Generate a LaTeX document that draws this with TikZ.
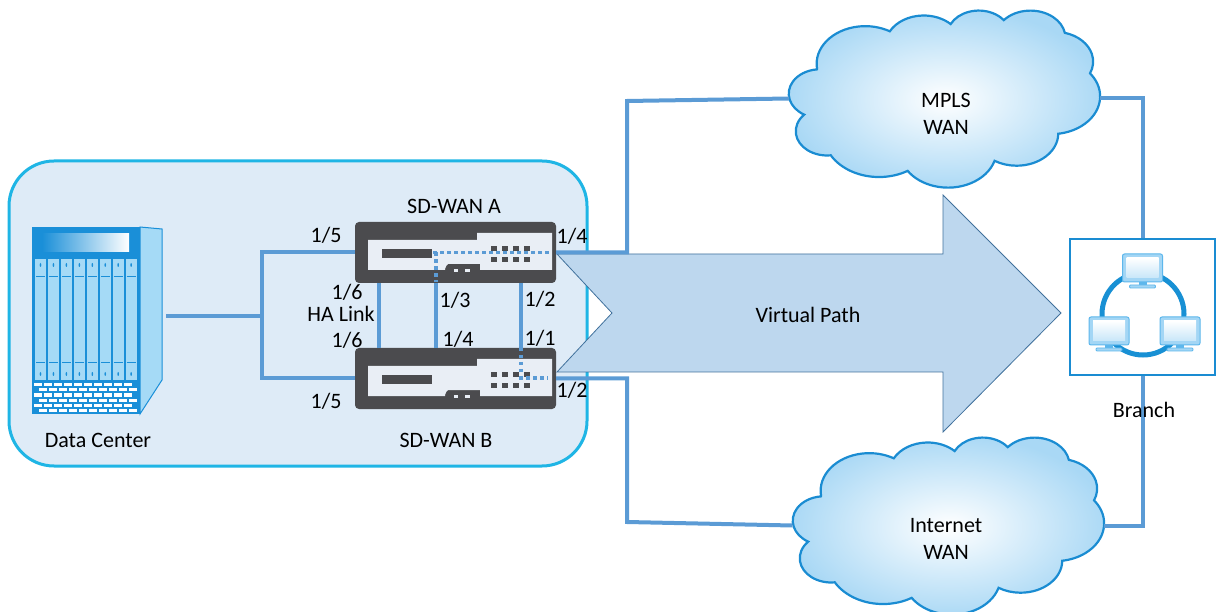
\documentclass[tikz,border=0pt]{standalone}
\usepackage{fontspec}
\setmainfont{Carlito}

\definecolor{boxfill}{HTML}{DEEBF7}
\definecolor{boxline}{HTML}{1FB5E5}
\definecolor{wire}{HTML}{5B9BD5}
\definecolor{devgray}{HTML}{4B4B4E}
\definecolor{panel}{HTML}{E9EEF5}
\definecolor{arrowfill}{HTML}{BDD7EE}
\definecolor{arrowline}{HTML}{41719C}
\definecolor{cloudline}{HTML}{1A8CD2}
\definecolor{cloudfill}{HTML}{A9D8F5}
\definecolor{rackblue}{HTML}{1A8FD8}
\definecolor{racklight}{HTML}{A5DAF6}
\definecolor{ringblue}{HTML}{1890D4}
\definecolor{monedge}{HTML}{5DB7EC}
\definecolor{monfill}{HTML}{A3D6F5}

% elliptical arc given by radii, start angle and sweep (visual angles)
\newcommand\cloudarc[4]{arc[start angle={atan2((#1)*sin(#3),(#2)*cos(#3))},
  delta angle={mod(atan2((#1)*sin(#3+#4),(#2)*cos(#3+#4))-atan2((#1)*sin(#3),(#2)*cos(#3))+720,360)},
  x radius=#1, y radius=#2]}
% cloud outline in a 432 x 432 box
\newcommand\cloudoutline{(39,143.7)
  \cloudarc{67.53}{91.90}{-190.4875}{123.7805}
  \cloudarc{53.33}{72.67}{-144.1024}{89.9452}
  \cloudarc{43.65}{59.45}{-145.8079}{99.7230}
  \cloudarc{48.57}{65.95}{-130.9861}{117.2417}
  \cloudarc{53.33}{72.73}{-78.7089}{109.0269}
  \cloudarc{67.75}{92.20}{-46.2673}{130.2690}
  \cloudarc{57.85}{78.67}{0.6250}{114.0333}
  \cloudarc{67.52}{92.15}{22.4516}{115.1726}
  \cloudarc{77.20}{105.43}{66.2426}{75.7110}
  \cloudarc{43.60}{59.18}{-274.9421}{146.7356}
  \cloudarc{43.45}{59.45}{-246.8285}{152.5189}
  -- cycle}

\tikzset{
  lbl/.style={font=\fontsize{22}{26}\selectfont, inner sep=0pt, text=black},
  wireline/.style={draw=wire, line width=4pt},
  dotwire/.style={draw=wire, line width=3.5pt, dash pattern=on 3.5pt off 3.5pt},
  cloudbody/.style={draw=cloudline, line width=2.2pt, shading=radial,
    inner color=white, outer color=cloudfill},
  appliance/.pic={
    % outer body
    \node[minimum width=201pt, minimum height=61pt, inner sep=0pt,
          fill=devgray, rounded corners=4pt] (-box) at (100.5,30.5) {};
    % light face plate with raised right part and a bottom tab
    \fill[panel] (13,18) -- (122,18) -- (122,11) -- (197,11) -- (197,48)
      -- (125,48) -- (125,42) -- (93,42) [rounded corners=2pt]-- (90,45)
      [sharp corners]-- (90,48) -- (13,48) -- cycle;
    % display slot
    \fill[devgray] (27,27) rectangle (77,36);
    % tab indicators
    \fill[panel] (99,47) rectangle (103,50);
    \fill[panel] (110,47) rectangle (115,50);
    % port grid
    \foreach \px in {136,147,158,169} {
      \fill[devgray] (\px,24) rectangle ++(6,5);
      \fill[devgray] (\px,35) rectangle ++(6,5);
    }
  },
  monitor/.pic={
    \filldraw[fill=monfill, draw=monedge, line width=1pt, rounded corners=2pt]
      (-20,-14) rectangle (20,14);
    \shade[top color=white, bottom color=monfill!60]
      (-16,-10) rectangle (16,10);
    \fill[monedge] (-4,14) rectangle (4,17);
    \filldraw[fill=monfill, draw=monedge, line width=0.8pt, rounded corners=1pt]
      (-13,17) rectangle (13,20);
  }
}

\begin{document}
\begin{tikzpicture}[x=1pt, y=-1pt]
\path[use as bounding box] (0,0) rectangle (1216,612);

% data center enclosure
\draw[fill=boxfill, draw=boxline, line width=3pt, rounded corners=45pt]
  (9,161) rectangle (587,466);

% server rack
\node[minimum width=130pt, minimum height=187pt, inner sep=0pt] (rack) at (97,320.5) {};
\filldraw[fill=racklight, draw=rackblue, line width=1pt]
  (140,227) -- (162,229) -- (162,380) -- (140,414) -- cycle;
\fill[rackblue] (32,227) rectangle (140,414);
\shade[left color=rackblue, right color=white] (42,234) rectangle (129,252);
\foreach \i in {0,...,7} {
  \pgfmathsetmacro{\bx}{35+\i*12.95}
  \fill[racklight] (\bx,259) rectangle ++(11,121);
  \fill[rackblue] (\bx+5.5,265) ellipse (0.8pt and 2pt);
  \fill[rackblue] (\bx+5.5,374) ellipse (0.8pt and 2pt);
  \draw[rackblue, line width=0.8pt] (\bx+1,276) -- ++(9,0);
  \draw[rackblue, line width=0.8pt] (\bx+1,362) -- ++(9,0);
}
\foreach \r in {0,...,5} {
  \pgfmathsetmacro{\by}{383+\r*5.2}
  \pgfmathsetmacro{\off}{mod(\r,2)*5}
  \foreach \c in {0,...,10} {
    \pgfmathsetmacro{\bxx}{34+\off+\c*10}
    \ifdim\bxx pt<132pt
      \fill[white] (\bxx,\by) rectangle ++(8,3.2);
    \fi
  }
}

% appliances
\pic (A) at (355,222) {appliance};
\pic (B) at (355,348) {appliance};

% virtual path arrow
\filldraw[fill=arrowfill, draw=arrowline, line width=0.8pt]
  (557,254) -- (943,254) -- (943,195) -- (1061,313) -- (943,432)
  -- (943,372) -- (557,372) -- (612,313) -- cycle;
\node[lbl] (vp) at (808,315) {Virtual Path};

% WAN clouds
\node[minimum width=311pt, minimum height=177pt, inner sep=0pt] (mpls) at (944.5,98.5) {};
\begin{scope}[shift={(789,10)}, x=0.7199pt, y=-0.4097pt]
  \path[cloudbody] \cloudoutline;
\end{scope}
\node[lbl] (mplst) at (946,100) {MPLS};
\node[lbl] (mplsw) at (946,127) {WAN};

\node[minimum width=311pt, minimum height=177pt, inner sep=0pt] (inet) at (948,525.5) {};
\begin{scope}[shift={(793,437)}, x=0.7199pt, y=-0.4097pt]
  \path[cloudbody] \cloudoutline;
\end{scope}
\node[lbl] (inett) at (946,526) {Internet};
\node[lbl] (inetw) at (946,552) {WAN};

% branch site
\node[minimum width=145pt, minimum height=136pt, inner sep=0pt,
      draw=cloudline, line width=2pt, fill=white] (branch) at (1142.5,307) {};
\draw[ringblue, line width=5pt] (1143,314) circle (41pt);
\pic at (1142.5,268) {monitor};
\pic at (1109,331) {monitor};
\pic at (1180,331) {monitor};

% wiring
\coordinate (hub) at (262,316);
\coordinate (mj) at (627,101);
\coordinate (ij) at (627,522);
\draw[wireline] (rack.east |- hub) ++(4,0) -- (hub);
\draw[wireline] (A-box.west) -| (hub) |- (B-box.west);
\draw[wireline] (A-box.east) -| (mj) -- (mpls.west);
\draw[wireline] (B-box.east) -| (ij) -- (inet.west);
\draw[wireline] (mpls.east) -| (branch.north);
\draw[wireline] (branch.south) |- (inet.east);

% links between the two appliances
\draw[wireline] ([xshift=-76.5pt]A-box.south) -- ([xshift=-76.5pt]B-box.north);
\draw[wireline] ([xshift=-19.5pt]A-box.south) -- ([xshift=-19.5pt]B-box.north);
\draw[wireline] ([xshift=65.5pt]A-box.south) -- ([xshift=65.5pt]B-box.north);

% internal port paths
\draw[dotwire] (433,252.5) -- (552,252.5);
\draw[dotwire] (436,252.5) -- (436,282);
\draw[dotwire] (521,348) -- (521,378) -- (548,378);

% labels
\node[lbl] (la) at (454,206) {SD-WAN A};
\node[lbl] (lb) at (446,440) {SD-WAN B};
\node[lbl] (ldc) at (98,440) {Data Center};
\node[lbl] (lbr) at (1144,410) {Branch};
\node[lbl] (pa5) at (326,235) {1/5};
\node[lbl] (pa4) at (572,236) {1/4};
\node[lbl] (pa6) at (347,292) {1/6};
\node[lbl] (ha) at (341,314) {HA Link};
\node[lbl] (pb6) at (347,340) {1/6};
\node[lbl] (pa3) at (455,300) {1/3};
\node[lbl] (pa2) at (540,299) {1/2};
\node[lbl] (pb4) at (458,339) {1/4};
\node[lbl] (pb1) at (540,338) {1/1};
\node[lbl] (pb2) at (572,390) {1/2};
\node[lbl] (pb5) at (326,401) {1/5};
\end{tikzpicture}
\end{document}
